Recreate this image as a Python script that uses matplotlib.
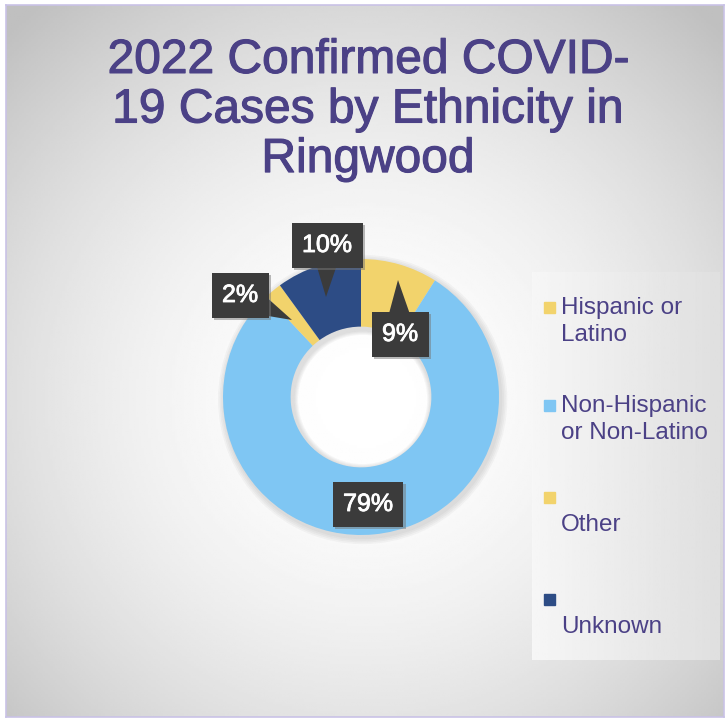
import numpy as np
import matplotlib.pyplot as plt
from matplotlib.patches import Rectangle, Wedge
import matplotlib.patheffects as pe

W, H = 725, 719

labels = ["Hispanic or\nLatino", "Non-Hispanic\nor Non-Latino", "\nOther", "\nUnknown"]
values = [9, 79, 2, 10]
colors = ["#F2D36C", "#7FC6F3", "#F2D36C", "#2D4C85"]
title = "2022 Confirmed COVID-\n19 Cases by Ethnicity in\nRingwood"

purple = "#4B4186"
box_col = "#3B3B3B"


def fx(x):
    return x / W


def fy(y):
    return 1 - y / H


fig = plt.figure(figsize=(W / 100, H / 100), dpi=100)
fig.patch.set_facecolor("white")

# background with radial gradient inside a thin border
bg = fig.add_axes([fx(6), fy(717), fx(718), (717 - 5) / H])
yy, xx = np.mgrid[0:300, 0:300]
d = np.sqrt(((xx - 150) / 150) ** 2 + ((yy - 165) / 150) ** 2)
shade = np.clip(1 - 0.13 * d ** 1.8, 0.75, 1)
bg.imshow(shade, cmap="gray", vmin=0, vmax=1, extent=[0, 1, 0, 1], aspect="auto")
bg.set_xlim(0, 1)
bg.set_ylim(0, 1)
bg.set_xticks([])
bg.set_yticks([])
for s in bg.spines.values():
    s.set_color("#C9C2E6")
    s.set_linewidth(1.2)

# legend panel
lg = fig.add_axes([fx(532), fy(660), fx(720 - 532), (660 - 272) / H])
grad = np.linspace(0.965, 0.875, 100).reshape(1, -1)
lg.imshow(grad, cmap="gray", vmin=0, vmax=1, extent=[0, 1, 0, 1], aspect="auto")
lg.set_axis_off()

marker_y = [307, 405, 497, 599]
for lab, col, my in zip(labels, colors, marker_y):
    fig.patches.append(Rectangle((fx(544), fy(my + 6)), fx(11), 11 / H,
                                 transform=fig.transFigure, color=col))
    fig.text(fx(561), fy(my - 10), lab, color=purple, fontsize=17.5,
             family="Liberation Sans", va="top", ha="left", linespacing=1.3)

fig.text(fx(368), fy(110), title, color=purple, fontsize=34.5,
         family="Liberation Sans", ha="center", va="center", linespacing=1.13,
         path_effects=[pe.withStroke(linewidth=0.8, foreground=purple)])

# donut
R = 138
ax = fig.add_axes([fx(361 - 160), fy(397 + 160), fx(320), 320 / H])
for k in range(4):
    ax.add_patch(Wedge((0.012, -0.018), 1.0 + 0.012 * (k + 1), 0, 360,
                       width=0.5 + 0.02 * (k + 1), color="#888888",
                       alpha=0.07, lw=0, zorder=0))
ax.pie(values, colors=colors, startangle=90, counterclock=False, radius=1,
       wedgeprops=dict(width=0.49, edgecolor="none"))
lim = 160 / R
ax.set_xlim(-lim, lim)
ax.set_ylim(-lim, lim)
ax.set_aspect("equal")
ax.set_axis_off()

pct = ["9%", "79%", "2%", "10%"]
text_pos = [(400, 334), (368, 504), (240, 295), (327, 245)]
tips = [(398, 280), None, (292, 320), (326, 297)]


def dc(p):
    return ((p[0] - 361) / R, (397 - p[1]) / R)


for t, tp, tip in zip(pct, text_pos, tips):
    kw = dict(color="white", fontsize=18, family="Liberation Sans",
              ha="center", va="center", zorder=5,
              bbox=dict(boxstyle="square,pad=0.42", fc=box_col, ec="none"),
              path_effects=[pe.withStroke(linewidth=0.6, foreground="white")])
    if tip is None:
        a = ax.annotate(t, xy=dc(tp), **kw)
    else:
        a = ax.annotate(t, xy=dc(tip), xytext=dc(tp),
                        arrowprops=dict(arrowstyle="wedge,tail_width=1.2",
                                        fc=box_col, ec="none", patchA=None,
                                        shrinkA=0, shrinkB=0, mutation_scale=20),
                        **kw)
    a.get_bbox_patch().set_path_effects([
        pe.SimplePatchShadow(offset=(2, -2), shadow_rgbFace="#777777", alpha=0.5),
        pe.Normal()])

fig.savefig("out.png", dpi=100)
